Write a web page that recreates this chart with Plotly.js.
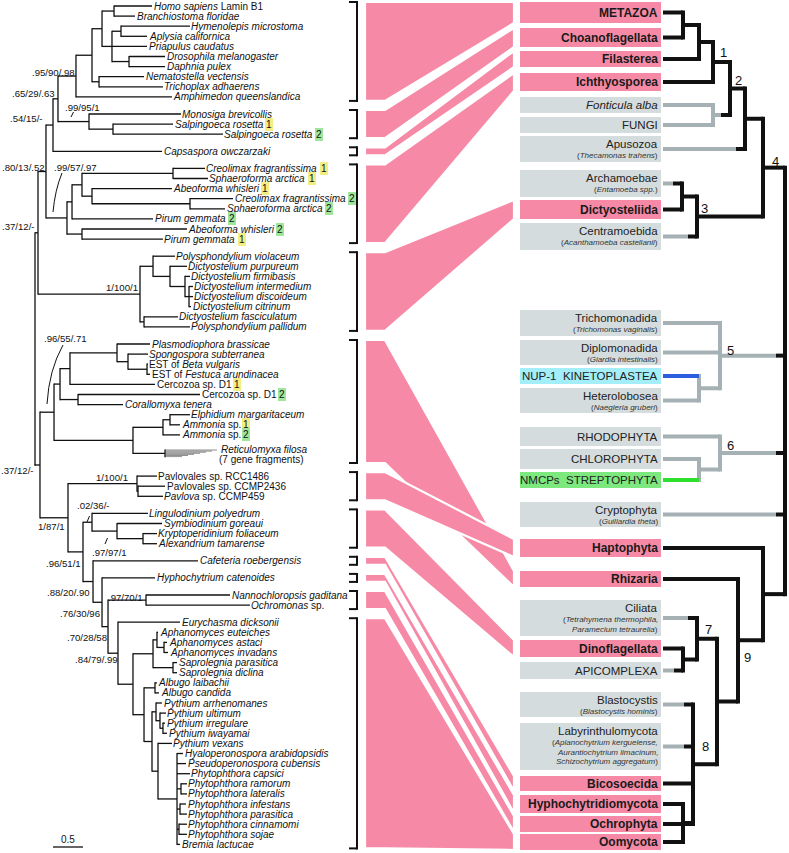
<!DOCTYPE html>
<html>
<head>
<meta charset="utf-8">
<script src="https://cdn.plot.ly/plotly-3.0.1.min.js"></script>
<style>
html,body{margin:0;padding:0;background:#ffffff;}
#chart{width:789px;height:853px;}
</style>
</head>
<body>
<div id="chart"></div>
<script>
// ======================= DATA =======================
// Gene tree: the number after ':' is the distance of that node from the root
// (substitutions per site, read against the 0.5 scale bar).
const GENE_TREE = "(((((((((Homo:1.95,Bfl:1.667):1.317,((Hmi:2.583,Aca:1.867):1.433,Pca:1.867,(Dme:2.167,Dpu:2.167):1.567):1.283):1.117,(Nve:1.817,Tad:2.133):1.067):0.95,Aqu:2.283):0.683,(Mbr:2.433,(Sro1:2.3,Sro2:3.133):1.3):0.9):0.383,Cow:2.117):0.3,((((Cfr1:2.833,Sar1:2.883):2.3,(Awh1:2.283,(Cfr2:3.3,Sar2:3.167):2.583):0.95):0.783,Pge2:1.967):0.617,(Awh2:2.533,Pge1:2.133):0.783):0.533):0.183,((Pvi:2.333,(Dpp:2.533,(Dfi:2.583,(Din:2.633,Ddi:2.633,Dci:2.6):2.567):2.5):2.25):1.967,(Dfa:2.383,Ppa:2.583):1.817):1.75):0.05,((((((Pbr:1.917,(Ssu:1.883,(Bvu:1.883,Far:1.917):1.867):1.55):1.367,Cer1:2.0):0.583,(Cer2:2.75,Cte:1.467):0.717):0.417,(((Ema:2.583,Amm1:2.417):2.25,Amm2:2.417):2.133,(f:3.033,f:2.95,f:2.85,f:2.75,f:2.65,f:2.55,f:2.45)Rfi:2.167):1.633):0.317,((PRCC:2.033,(P2436:2.167,P459:2.133):1.717):1.7,((Lpo:1.883,(Sgo:2.117,(Kfo:2.033,Ata:2.033):1.8):1.367):0.95,(Cro:2.717,(Hca:2.0,((Nga:3.25,Och:3.583):1.85,(Edi:2.417,(((Aeu:2.05,(Aas:2.2,Ain:2.217):2.15):2.033,(Spa:2.367,Sdi:2.367):2.3):1.967,((Ala:2.033,Aca2:2.067):2.0,((Par:2.117,(Pul:2.183,(Pir:2.167,Piw:2.2):2.133):2.083):2.017,(Pve:2.283,(Har:2.467,Pcu:2.517,Pcap:2.583,(Pra:2.533,Pla:2.533):2.433,(Pin:2.517,Ppar:2.533):2.417,(Pci:2.533,Pso:2.533):2.4,Bla:2.417):2.367):2.05):1.95):1.817):1.633):1.383):1.217):1.117):0.967):0.8):0.55):0.083);";

const LEAF_LABELS = [
 "<i>Homo sapiens</i> Lamin B1","<i>Branchiostoma floridae</i>","<i>Hymenolepis microstoma</i>","<i>Aplysia californica</i>",
 "<i>Priapulus caudatus</i>","<i>Drosophila melanogaster</i>","<i>Daphnia pulex</i>","<i>Nematostella vectensis</i>",
 "<i>Trichoplax adhaerens</i>","<i>Amphimedon queenslandica</i>",
 "<i>Monosiga brevicollis</i>","<i>Salpingoeca rosetta</i>","<i>Salpingoeca rosetta</i>",
 "<i>Capsaspora owczarzaki</i>",
 "<i>Creolimax fragrantissima</i>","<i>Sphaeroforma arctica</i>","<i>Abeoforma whisleri</i>","<i>Creolimax fragrantissima</i>",
 "<i>Sphaeroforma arctica</i>","<i>Pirum gemmata</i>","<i>Abeoforma whisleri</i>","<i>Pirum gemmata</i>",
 "<i>Polysphondylium violaceum</i>","<i>Dictyostelium purpureum</i>","<i>Dictyostelium firmibasis</i>","<i>Dictyostelium intermedium</i>",
 "<i>Dictyostelium discoideum</i>","<i>Dictyostelium citrinum</i>","<i>Dictyostelium fasciculatum</i>","<i>Polysphondylium pallidum</i>",
 "<i>Plasmodiophora brassicae</i>","<i>Spongospora subterranea</i>","EST of <i>Beta vulgaris</i>","EST of <i>Festuca arundinacea</i>",
 "Cercozoa sp. D1","Cercozoa sp. D1","<i>Corallomyxa tenera</i>","<i>Elphidium margaritaceum</i>",
 "<i>Ammonia</i> sp.","<i>Ammonia</i> sp.",["<i>Reticulomyxa filosa</i>","(7 gene fragments)"],
 "Pavlovales sp. RCC1486","Pavlovales sp. CCMP2436","<i>Pavlova</i> sp. CCMP459",
 "<i>Lingulodinium polyedrum</i>","<i>Symbiodinium goreaui</i>","<i>Kryptoperidinium foliaceum</i>","<i>Alexandrium tamarense</i>",
 "<i>Cafeteria roebergensis</i>",
 "<i>Hyphochytrium catenoides</i>",
 "<i>Nannochloropsis gaditana</i>","<i>Ochromonas</i> sp.",
 "<i>Eurychasma dicksonii</i>","<i>Aphanomyces euteiches</i>","<i>Aphanomyces astaci</i>","<i>Aphanomyces invadans</i>",
 "<i>Saprolegnia parasitica</i>","<i>Saprolegnia diclina</i>","<i>Albugo laibachii</i>","<i>Albugo candida</i>",
 "<i>Pythium arrhenomanes</i>","<i>Pythium ultimum</i>","<i>Pythium irregulare</i>","<i>Pythium iwayamai</i>",
 "<i>Pythium vexans</i>","<i>Hyaloperonospora arabidopsidis</i>","<i>Pseudoperonospora cubensis</i>","<i>Phytophthora capsici</i>",
 "<i>Phytophthora ramorum</i>","<i>Phytophthora lateralis</i>","<i>Phytophthora infestans</i>","<i>Phytophthora parasitica</i>",
 "<i>Phytophthora cinnamomi</i>","<i>Phytophthora sojae</i>","<i>Bremia lactucae</i>"
];
// paralog copy tag shown after the name (0 = none)
const LEAF_COPY = [0,0,0,0,0,0,0,0,0,0, 0,1,2, 0, 1,1,1,2,2,2,2,1, 0,0,0,0,0,0,0,0,
 0,0,0,0,1,2,0,0,1,2,0, 0,0,0, 0,0,0,0, 0, 0, 0,0,
 0,0,0,0,0,0,0,0,0,0,0,0,0,0,0,0,0,0,0,0,0,0,0];

const GENE_GROUPS  = ["Metazoa","Choanoflagellata","Filasterea","Ichthyosporea","Dictyosteliida","Rhizaria","Haptophyta","Dinoflagellata","Bicosoecida","Hyphochytridiomycota","Ochrophyta","Oomycota"];
const GROUP_SIZES  = [10,3,1,8,8,11,3,4,1,1,2,23];
const GROUP_TARGET = ["METAZOA","Choanoflagellata","Filasterea","Ichthyosporea","Dictyosteliida","Rhizaria","Haptophyta","Dinoflagellata","Bicosoecida","Hyphochytridiomycota","Ochrophyta","Oomycota"];

// support values (PP / ML bootstrap / aLRT)
const SUPPORT = [".95/90/.98",".65/29/.63",".99/95/1",".54/15/-",".80/13/.52",".99/57/.97",".37/12/-","1/100/1",
 ".96/55/.71",".37/12/-","1/100/1",".02/36/-","1/87/1",".97/97/1",".96/51/1",".88/20/.90",".97/70/1",".76/30/96",".70/28/58",".84/79/.99"];

// Eukaryote groups of the right-hand species tree
const TAXA = ["METAZOA","Choanoflagellata","Filasterea","Ichthyosporea","Fonticula","FUNGI","Apusozoa","Archamoebae","Dictyosteliida","Centramoebida",
 "Trichomonadida","Diplomonadida","KINETOPLASTEA","Heterolobosea","RHODOPHYTA","CHLOROPHYTA","STREPTOPHYTA","Cryptophyta","Haptophyta","Rhizaria",
 "Ciliata","Dinoflagellata","APICOMPLEXA","Blastocystis","Labyrinthulomycota","Bicosoecida","Hyphochytridiomycota","Ochrophyta","Oomycota"];
const TAXA_LABEL = ["METAZOA","Choanoflagellata","Filasterea","Ichthyosporea","<i>Fonticula alba</i>","FUNGI","Apusozoa","Archamoebae","Dictyosteliida","Centramoebida",
 "Trichomonadida","Diplomonadida","NUP-1\u00a0\u00a0KINETOPLASTEA","Heterolobosea","RHODOPHYTA","CHLOROPHYTA","NMCPs\u00a0\u00a0STREPTOPHYTA","Cryptophyta","Haptophyta","Rhizaria",
 "Ciliata","Dinoflagellata","APICOMPLEXA","Blastocystis","Labyrinthulomycota","Bicosoecida","Hyphochytridiomycota","Ochrophyta","Oomycota"];
const TAXA_SUB = [[],[],[],[],[],[],["(<i>Thecamonas trahens</i>)"],["(<i>Entamoeba spp.</i>)"],[],["(<i>Acanthamoeba castellanii</i>)"],
 ["(<i>Trichomonas vaginalis</i>)"],["(<i>Giardia intestinalis</i>)"],[],["(<i>Naegleria gruberi</i>)"],[],[],[],["(<i>Guillardia theta</i>)"],[],[],
 ["(<i>Tetrahymena thermophila,</i>","<i>Paramecium tetraurelia</i>)"],[],[],["(<i>Blastocystis hominis</i>)"],
 ["(<i>Aplanochytrium kerguelense,</i>","<i>Aurantiochytrium limacinum,</i>","<i>Schizochytrium aggregatum</i>)"],[],[],[],[]];
// lamin-like protein found: nmcp (lamin/NMCP), absent, nup1 (NUP-1), plant (NMCPs)
const TAXA_STATUS = ["nmcp","nmcp","nmcp","nmcp","absent","absent","absent","absent","nmcp","absent",
 "absent","absent","nup1","absent","absent","absent","plant","absent","nmcp","nmcp",
 "absent","nmcp","absent","absent","absent","nmcp","nmcp","nmcp","nmcp"];

const SPECIES_TREE = "(((((((((METAZOA,Choanoflagellata)mc,Filasterea)mcf,Ichthyosporea)hol,(Fonticula,FUNGI)fon)opi,Apusozoa)oba,((Archamoebae,Dictyosteliida)arc,Centramoebida)amo)a4,(Trichomonadida,Diplomonadida,(KINETOPLASTEA,Heterolobosea)kh)k5,(RHODOPHYTA,(CHLOROPHYTA,STREPTOPHYTA)cs)r6,Cryptophyta,(Haptophyta,(Rhizaria,((Ciliata,(Dinoflagellata,APICOMPLEXA)da)alv,(Blastocystis,Labyrinthulomycota,Bicosoecida,(Hyphochytridiomycota,Oomycota)ho,Ochrophyta)st)as)sar)hs)root;";
const CLADE_NUMBER = {hol:"1",opi:"2",amo:"3",a4:"4",k5:"5",r6:"6",alv:"7",st:"8",sar:"9"};
const SCALE_BAR = 0.5;

// ======================= LAYOUT / STYLE =======================
const FONT = '"Liberation Sans", Arial, Helvetica, sans-serif';
const PINK = "#f68aa6", GREYBOX = "#d5dcdd", CYANBOX = "#a3eef8", GREENBOX = "#7de87d";
const LINE_GREY = "#a5b1b5", LINE_BLUE = "#2c5fe0", LINE_GREEN = "#2ee02e", INK = "#111111";
const L = {
  treeX0: 35, pxPerUnit: 60, leafY0: 6, leafStep: 10.1, groupGap: 7, secondLine: 10, twoLinePad: 4, fragStep: 1.1,
  bracketX: 357, tick: 8, bandX0: 365, bandX1: 385, bandX2: 514, boxX0: 520, boxX1: 661,
  scaleX0: 53, scaleY: 847
};
const BOX_Y = {METAZOA:[2,23],Choanoflagellata:[28,47],Filasterea:[51,67],Ichthyosporea:[73,91],Fonticula:[97,113],FUNGI:[117,133],
 Apusozoa:[136,162],Archamoebae:[170,197],Dictyosteliida:[200,219],Centramoebida:[223,250],Trichomonadida:[310,336],Diplomonadida:[340,365],
 KINETOPLASTEA:[368,384],Heterolobosea:[388,413],RHODOPHYTA:[427,446],CHLOROPHYTA:[449,469],STREPTOPHYTA:[472,488],Cryptophyta:[502,527],
 Haptophyta:[539,557],Rhizaria:[571,587],Ciliata:[600,636],Dinoflagellata:[640,657],APICOMPLEXA:[662,679],Blastocystis:[692,717],
 Labyrinthulomycota:[723,770],Bicosoecida:[776,791],Hyphochytridiomycota:[795,813],Ochrophyta:[816,832],Oomycota:[834,850]};
const SP_NODE_X = {mc:683,mcf:699,hol:713,fon:713,opi:730,oba:745,arc:682,amo:697,a4:763,k5:720,kh:699,r6:720,cs:699,
 ho:683,st:693,da:683,alv:697,as:717,sar:738,hs:763,root:785};
const CLADE_OFFSET = {hol:[10,-10],opi:[8,-8.5],amo:[7,-8.5],a4:[12,-6],k5:[10,-5.5],r6:[10,-8],alv:[11,-9],st:[12,-18],sar:[9,17]};
const SUPPORT_POS = [[75,72],[55,93],[100,107],[43,118],[45,167],[97,167],[35,226],[138,287],
 [87,338],[34,470],[128,477],[110,505],[65,526],[127,552],[81,563],[90,592],[143,597],[100,613],[107,637],[118,659]];
const LEADERS = ["M71,117 L73.5,112","M62,173 Q55,190 53,212","M63,345 Q49,370 47,404","M87,522 L89.5,516","M105,544 L107.5,538"];

// ======================= HELPERS =======================
function parseNewick(str){
  const s = str.replace(/\s+/g,"").replace(/;$/,"");
  let i = 0;
  function node(){
    const n = {children:[], name:"", len:0};
    if(s[i] === "("){
      i++;
      n.children.push(node());
      while(s[i] === ","){ i++; n.children.push(node()); }
      i++;
    }
    let name = "";
    while(i < s.length && ",():".indexOf(s[i]) < 0) name += s[i++];
    n.name = name;
    if(s[i] === ":"){
      i++; let num = "";
      while(i < s.length && ",()".indexOf(s[i]) < 0) num += s[i++];
      n.len = parseFloat(num);
    }
    return n;
  }
  return node();
}
const ctx = document.createElement("canvas").getContext("2d");
function textWidth(html, size){
  let w = 0; const re = /<i>(.*?)<\/i>|([^<]+)/g; let m;
  while((m = re.exec(html))){
    if(m[1] !== undefined){ ctx.font = "italic " + size + "px 'Liberation Sans'"; w += ctx.measureText(m[1]).width; }
    else if(m[2] !== undefined){ ctx.font = size + "px 'Liberation Sans'"; w += ctx.measureText(m[2]).width; }
  }
  return w;
}

const traces = [], shapes = [], annotations = [];
function addLines(segs, color, width){
  const x = [], y = [];
  segs.forEach(s => { x.push(s[0], s[2], null); y.push(s[1], s[3], null); });
  traces.push({type:"scatter", mode:"lines", x, y, line:{color, width}, hoverinfo:"skip", showlegend:false});
}
function ann(x, y, text, size, anchor, extra){
  annotations.push(Object.assign({x, y, xref:"x", yref:"y", text, showarrow:false, xanchor:anchor, yanchor:"middle",
    borderpad:0, borderwidth:0, font:{family:FONT, size, color:INK}}, extra || {}));
}

// ======================= GENE TREE =======================
const gtree = parseNewick(GENE_TREE);
const taxa = [];
(function collect(n){
  const cluster = n.children.length && n.children.every(c => !c.children.length && c.name === "f");
  if(!n.children.length || cluster){ taxa.push(n); return; }
  n.children.forEach(collect);
})(gtree);
const groupOf = [];
GROUP_SIZES.forEach((s, g) => { for(let k = 0; k < s; k++) groupOf.push(g); });
let yy = L.leafY0 - L.leafStep;
taxa.forEach((n, i) => {
  yy += L.leafStep;
  if(i > 0 && groupOf[i] !== groupOf[i-1]) yy += L.groupGap;
  if(i > 0 && Array.isArray(LEAF_LABELS[i-1])) yy += L.secondLine;
  if(Array.isArray(LEAF_LABELS[i])) yy += L.twoLinePad;
  n.textY = yy;
  if(n.children.length) n.children.forEach((c, k) => { c.y = yy + 1 + k * L.fragStep; c.frag = true; });
  else n.y = yy;
});
(function setXY(n){
  n.x = L.treeX0 + (n.len || 0) * L.pxPerUnit;
  n.children.forEach(setXY);
  if(n.children.length){ const ys = n.children.map(c => c.y); n.y = (ys[0] + ys[ys.length-1]) / 2; }
})(gtree);
const gsegs = [], fsegs = [];
(function draw(n){
  if(!n.children.length) return;
  const ys = n.children.map(c => c.y);
  gsegs.push([n.x, Math.min(...ys) - 0.6, n.x, Math.max(...ys) + 0.6]);
  n.children.forEach(c => { (c.frag ? fsegs : gsegs).push([n.x, c.y, c.x, c.y]); draw(c); });
})(gtree);
addLines(gsegs, INK, 1.3);
addLines(fsegs, "#444444", 0.6);

// leaf labels
taxa.forEach((n, i) => {
  const lab = LEAF_LABELS[i];
  if(Array.isArray(lab)){
    const tip = Math.max(...n.children.map(c => c.x));
    ann(tip + 4, n.textY, lab[0], 10, "left");
    ann(tip + 2, n.textY + L.secondLine, lab[1], 10, "left");
    return;
  }
  const x0 = n.x + 1.5;
  ann(x0, n.textY, lab, 10, "left");
  if(LEAF_COPY[i]){
    const w = textWidth(lab, 10);
    ann(x0 + w + 2.5, n.textY, String(LEAF_COPY[i]), 10, "left",
      {bgcolor: LEAF_COPY[i] === 1 ? "#f2ee84" : "#9fe59a", borderpad:1});
  }
});
// support values
SUPPORT.forEach((s, k) => ann(SUPPORT_POS[k][0], SUPPORT_POS[k][1], s, 9.6, "right"));
LEADERS.forEach(p => shapes.push({type:"path", path:p, xref:"x", yref:"y", line:{color:INK, width:1}}));
// scale bar
addLines([[L.scaleX0, L.scaleY, L.scaleX0 + SCALE_BAR * L.pxPerUnit, L.scaleY]], INK, 1.3);
ann(L.scaleX0 + SCALE_BAR * L.pxPerUnit / 2, L.scaleY - 8, String(SCALE_BAR), 10, "center");

// ======================= BRACKETS + BANDS =======================
const bsegs = [];
let start = 0;
GENE_GROUPS.forEach((g, gi) => {
  const end = start + GROUP_SIZES[gi] - 1;
  const top = taxa[start].textY - 4;
  const bot = taxa[end].textY + 4 + (Array.isArray(LEAF_LABELS[end]) ? L.secondLine : 0);
  const b = BOX_Y[GROUP_TARGET[gi]];
  shapes.push({type:"path", xref:"x", yref:"y", layer:"below", fillcolor:PINK, line:{color:"#ffffff", width:2.2},
    path:`M${L.bandX0},${top} L${L.bandX1},${top} L${L.bandX2},${b[0]} L${L.bandX2},${b[1]} L${L.bandX1},${bot} L${L.bandX0},${bot} Z`});
  bsegs.push([L.bracketX - L.tick, top, L.bracketX, top], [L.bracketX, top - 1, L.bracketX, bot + 1], [L.bracketX - L.tick, bot, L.bracketX, bot]);
  start = end + 1;
});
addLines(bsegs, INK, 2);

// ======================= RIGHT BOXES =======================
const FILL = {nmcp:PINK, absent:GREYBOX, nup1:CYANBOX, plant:GREENBOX};
TAXA.forEach((t, i) => {
  const b = BOX_Y[t], st = TAXA_STATUS[i];
  shapes.push({type:"rect", xref:"x", yref:"y", layer:"below", x0:L.boxX0, x1:L.boxX1, y0:b[0], y1:b[1], fillcolor:FILL[st], line:{width:0}});
  const subs = TAXA_SUB[i];
  const mainY = subs.length ? b[0] + 8 : (b[0] + b[1]) / 2;
  if(st === "nmcp") ann(L.boxX1 - 3, mainY, "<b>" + TAXA_LABEL[i] + "</b>", 12, "right", {font:{family:FONT, size:12, color:"#1a1a1a"}});
  else ann(L.boxX1 - 3, mainY, TAXA_LABEL[i], 11.5, "right", {font:{family:FONT, size:11.5, color:"#222"}});
  subs.forEach((s, k) => ann(L.boxX1 - 3, b[0] + 19.5 + 9.5 * k, s, 8, "right", {font:{family:FONT, size:8, color:"#333"}}));
});

// ======================= SPECIES TREE =======================
const sp = parseNewick(SPECIES_TREE);
const LEAFCOL = {nmcp:"k", absent:"g", nup1:"b", plant:"G"};
(function lay(n){
  if(!n.children.length){
    const i = TAXA.indexOf(n.name), b = BOX_Y[n.name];
    n.x = L.boxX1 + 2; n.y = (b[0] + b[1]) / 2; n.col = LEAFCOL[TAXA_STATUS[i]];
    return;
  }
  n.children.forEach(lay);
  n.x = SP_NODE_X[n.name];
  const ys = n.children.map(c => c.y);
  n.y = (Math.min(...ys) + Math.max(...ys)) / 2;
  n.col = n.children.some(c => c.col === "k") ? "k" : "g";
})(sp);
const ssegs = {k:[], g:[], b:[], G:[]};
(function draw(n){
  if(!n.children.length) return;
  const ys = n.children.map(c => c.y);
  ssegs[n.col].push([n.x, Math.min(...ys) - 2, n.x, Math.max(...ys) + 2]);
  n.children.forEach(c => {
    if(c.col === "g" && n.col === "k"){
      ssegs.g.push([c.x, c.y, n.x - 9, c.y]);
      ssegs.k.push([n.x - 9, c.y, n.x, c.y]);
    } else ssegs[c.col].push([c.x, c.y, n.x, c.y]);
    draw(c);
  });
  if(CLADE_NUMBER[n.name]){
    const o = CLADE_OFFSET[n.name];
    ann(n.x + o[0], n.y + o[1], CLADE_NUMBER[n.name], 13, "center");
  }
})(sp);
addLines(ssegs.g, LINE_GREY, 4);
addLines(ssegs.b, LINE_BLUE, 4);
addLines(ssegs.G, LINE_GREEN, 4);
addLines(ssegs.k, INK, 4);

// ======================= PLOT =======================
const layout = {
  width:789, height:853, margin:{l:0, r:0, t:0, b:0, pad:0},
  paper_bgcolor:"#ffffff", plot_bgcolor:"#ffffff",
  xaxis:{range:[0,789], visible:false, fixedrange:true},
  yaxis:{range:[853,0], visible:false, fixedrange:true},
  showlegend:false, shapes, annotations, font:{family:FONT}
};
Plotly.newPlot("chart", traces, layout, {staticPlot:true, displayModeBar:false});
</script>
</body>
</html>
